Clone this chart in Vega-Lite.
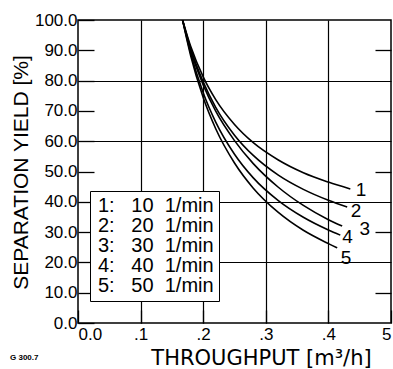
{
  "$schema": "https://vega.github.io/schema/vega-lite/v6.json",
  "width": 313,
  "height": 303,
  "autosize": "none",
  "padding": {"left": 78, "top": 20, "right": 2, "bottom": 46},
  "background": "white",
  "config": {
    "view": {"stroke": "black", "strokeWidth": 1.5},
    "font": "Liberation Sans",
    "axis": {"labelColor": "black", "titleColor": "black", "tickColor": "black", "gridColor": "black", "titleFontWeight": "normal"}
  },
  "title": {"text": "G 300.7", "orient": "bottom", "anchor": "start", "frame": "bounds", "fontSize": 8, "fontWeight": "bold", "offset": -14, "color": "black"},
  "datasets": {
    "curves": [
      {"series": "1:\u00a0\u00a0\u00a010\u00a0\u00a01/min", "x": 0.167, "y": 100},
      {"series": "1:\u00a0\u00a0\u00a010\u00a0\u00a01/min", "x": 0.18, "y": 91.3},
      {"series": "1:\u00a0\u00a0\u00a010\u00a0\u00a01/min", "x": 0.20, "y": 81.2},
      {"series": "1:\u00a0\u00a0\u00a010\u00a0\u00a01/min", "x": 0.22, "y": 73.7},
      {"series": "1:\u00a0\u00a0\u00a010\u00a0\u00a01/min", "x": 0.25, "y": 65.5},
      {"series": "1:\u00a0\u00a0\u00a010\u00a0\u00a01/min", "x": 0.28, "y": 59.5},
      {"series": "1:\u00a0\u00a0\u00a010\u00a0\u00a01/min", "x": 0.32, "y": 53.8},
      {"series": "1:\u00a0\u00a0\u00a010\u00a0\u00a01/min", "x": 0.36, "y": 49.6},
      {"series": "1:\u00a0\u00a0\u00a010\u00a0\u00a01/min", "x": 0.40, "y": 46.5},
      {"series": "1:\u00a0\u00a0\u00a010\u00a0\u00a01/min", "x": 0.435, "y": 44.2},
      {"series": "2:\u00a0\u00a0\u00a020\u00a0\u00a01/min", "x": 0.167, "y": 100},
      {"series": "2:\u00a0\u00a0\u00a020\u00a0\u00a01/min", "x": 0.18, "y": 90.6},
      {"series": "2:\u00a0\u00a0\u00a020\u00a0\u00a01/min", "x": 0.20, "y": 79.6},
      {"series": "2:\u00a0\u00a0\u00a020\u00a0\u00a01/min", "x": 0.22, "y": 71.2},
      {"series": "2:\u00a0\u00a0\u00a020\u00a0\u00a01/min", "x": 0.25, "y": 62.0},
      {"series": "2:\u00a0\u00a0\u00a020\u00a0\u00a01/min", "x": 0.28, "y": 55.3},
      {"series": "2:\u00a0\u00a0\u00a020\u00a0\u00a01/min", "x": 0.32, "y": 48.8},
      {"series": "2:\u00a0\u00a0\u00a020\u00a0\u00a01/min", "x": 0.36, "y": 44.1},
      {"series": "2:\u00a0\u00a0\u00a020\u00a0\u00a01/min", "x": 0.40, "y": 40.5},
      {"series": "2:\u00a0\u00a0\u00a020\u00a0\u00a01/min", "x": 0.43, "y": 38.3},
      {"series": "3:\u00a0\u00a0\u00a030\u00a0\u00a01/min", "x": 0.167, "y": 100},
      {"series": "3:\u00a0\u00a0\u00a030\u00a0\u00a01/min", "x": 0.18, "y": 89.9},
      {"series": "3:\u00a0\u00a0\u00a030\u00a0\u00a01/min", "x": 0.20, "y": 78.6},
      {"series": "3:\u00a0\u00a0\u00a030\u00a0\u00a01/min", "x": 0.22, "y": 69.9},
      {"series": "3:\u00a0\u00a0\u00a030\u00a0\u00a01/min", "x": 0.25, "y": 60.2},
      {"series": "3:\u00a0\u00a0\u00a030\u00a0\u00a01/min", "x": 0.28, "y": 52.6},
      {"series": "3:\u00a0\u00a0\u00a030\u00a0\u00a01/min", "x": 0.32, "y": 44.8},
      {"series": "3:\u00a0\u00a0\u00a030\u00a0\u00a01/min", "x": 0.36, "y": 38.8},
      {"series": "3:\u00a0\u00a0\u00a030\u00a0\u00a01/min", "x": 0.40, "y": 34.1},
      {"series": "3:\u00a0\u00a0\u00a030\u00a0\u00a01/min", "x": 0.422, "y": 32.0},
      {"series": "4:\u00a0\u00a0\u00a040\u00a0\u00a01/min", "x": 0.167, "y": 100},
      {"series": "4:\u00a0\u00a0\u00a040\u00a0\u00a01/min", "x": 0.18, "y": 89.0},
      {"series": "4:\u00a0\u00a0\u00a040\u00a0\u00a01/min", "x": 0.20, "y": 76.0},
      {"series": "4:\u00a0\u00a0\u00a040\u00a0\u00a01/min", "x": 0.22, "y": 66.3},
      {"series": "4:\u00a0\u00a0\u00a040\u00a0\u00a01/min", "x": 0.25, "y": 55.7},
      {"series": "4:\u00a0\u00a0\u00a040\u00a0\u00a01/min", "x": 0.28, "y": 47.9},
      {"series": "4:\u00a0\u00a0\u00a040\u00a0\u00a01/min", "x": 0.32, "y": 40.4},
      {"series": "4:\u00a0\u00a0\u00a040\u00a0\u00a01/min", "x": 0.36, "y": 34.9},
      {"series": "4:\u00a0\u00a0\u00a040\u00a0\u00a01/min", "x": 0.40, "y": 30.7},
      {"series": "4:\u00a0\u00a0\u00a040\u00a0\u00a01/min", "x": 0.419, "y": 29.0},
      {"series": "5:\u00a0\u00a0\u00a050\u00a0\u00a01/min", "x": 0.167, "y": 100},
      {"series": "5:\u00a0\u00a0\u00a050\u00a0\u00a01/min", "x": 0.18, "y": 88.2},
      {"series": "5:\u00a0\u00a0\u00a050\u00a0\u00a01/min", "x": 0.20, "y": 74.4},
      {"series": "5:\u00a0\u00a0\u00a050\u00a0\u00a01/min", "x": 0.22, "y": 64.1},
      {"series": "5:\u00a0\u00a0\u00a050\u00a0\u00a01/min", "x": 0.25, "y": 52.8},
      {"series": "5:\u00a0\u00a0\u00a050\u00a0\u00a01/min", "x": 0.28, "y": 44.5},
      {"series": "5:\u00a0\u00a0\u00a050\u00a0\u00a01/min", "x": 0.32, "y": 36.5},
      {"series": "5:\u00a0\u00a0\u00a050\u00a0\u00a01/min", "x": 0.36, "y": 30.6},
      {"series": "5:\u00a0\u00a0\u00a050\u00a0\u00a01/min", "x": 0.40, "y": 26.2},
      {"series": "5:\u00a0\u00a0\u00a050\u00a0\u00a01/min", "x": 0.414, "y": 24.8}
    ],
    "labels": [
      {"n": "1", "x": 0.452, "y": 43.9},
      {"n": "2", "x": 0.444, "y": 37.1},
      {"n": "3", "x": 0.458, "y": 31.0},
      {"n": "4", "x": 0.4305, "y": 28.4},
      {"n": "5", "x": 0.428, "y": 21.4}
    ]
  },
  "layer": [
    {
      "data": {"name": "curves"},
      "mark": {"type": "line", "interpolate": "monotone", "strokeWidth": 1.6, "clip": true},
      "encoding": {
        "x": {
          "field": "x", "type": "quantitative",
          "scale": {"domain": [0, 0.5], "nice": false, "zero": false},
          "axis": {
            "values": [0, 0.1, 0.2, 0.3, 0.4, 0.5],
            "labelExpr": "datum.value === 0 ? '0.0' : (datum.value > 0.45 ? '5' : '.' + round(datum.value * 10))",
            "labelFontSize": 17, "labelFlush": true, "labelPadding": 16,
            "tickSize": -13, "tickWidth": 1.3,
            "grid": true, "gridWidth": 1.2,
            "gridOpacity": {"condition": {"test": "datum.value > 0.05 && datum.value < 0.45", "value": 1}, "value": 0},
            "domain": false,
            "title": "THROUGHPUT [m³/h]", "titleFontSize": 21, "titleFont": "DejaVu Sans",
            "titleX": 183, "titleY": 41, "titleAlign": "center", "titleBaseline": "alphabetic"
          }
        },
        "y": {
          "field": "y", "type": "quantitative",
          "scale": {"domain": [0, 100], "nice": false},
          "axis": {
            "values": [0, 10, 20, 30, 40, 50, 60, 70, 80, 90, 100],
            "format": ".1f", "labelFontSize": 17, "labelPadding": 17,
            "tickSize": -16, "tickWidth": 1.3,
            "grid": true, "gridWidth": 1.2,
            "gridOpacity": {"condition": {"test": "datum.value > 10 && datum.value < 90 && datum.value % 20 === 0", "value": 1}, "value": 0},
            "domain": false,
            "title": "SEPARATION YIELD [%]", "titleFontSize": 21,
            "titleX": -51, "titleY": 152, "titleAngle": -90, "titleAlign": "center", "titleBaseline": "alphabetic"
          }
        },
        "color": {
          "field": "series", "type": "nominal",
          "scale": {"range": ["black"]},
          "legend": {
            "orient": "none", "legendX": 12, "legendY": 171, "title": null,
            "symbolType": "circle", "symbolOpacity": 0, "symbolSize": 1, "symbolStrokeWidth": 0,
            "labelFontSize": 20, "labelOffset": -17, "labelColor": "black", "labelFont": "Liberation Sans",
            "padding": 5, "rowPadding": -1.5,
            "strokeColor": "black", "fillColor": "white"
          }
        }
      }
    },
    {
      "data": {"name": "labels"},
      "mark": {"type": "text", "fontSize": 19, "align": "center", "baseline": "middle", "color": "black", "font": "Liberation Sans"},
      "encoding": {
        "x": {"field": "x", "type": "quantitative", "scale": {"domain": [0, 0.5], "nice": false, "zero": false}},
        "y": {
          "field": "y", "type": "quantitative", "scale": {"domain": [0, 100], "nice": false},
          "axis": {
            "orient": "right", "values": [10, 30, 50, 70, 90],
            "labels": false, "tickSize": -16, "tickWidth": 1.3, "grid": false, "domain": false, "title": null
          }
        },
        "text": {"field": "n"}
      }
    }
  ],
  "resolve": {"axis": {"y": "independent"}}
}
